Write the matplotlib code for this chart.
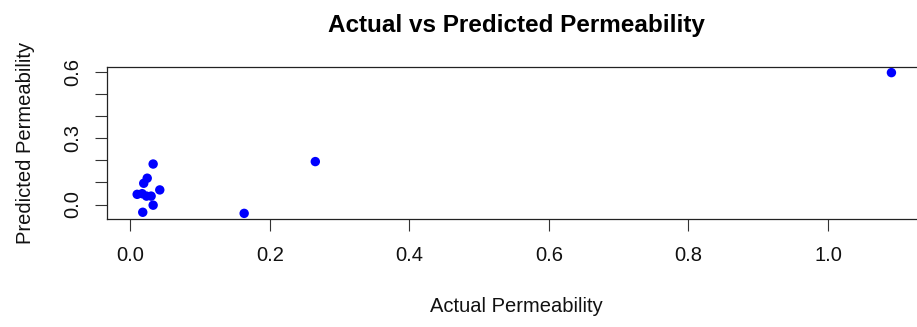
import matplotlib

matplotlib.use("Agg")
import matplotlib.pyplot as plt

plt.rcParams["font.family"] = ["Liberation Sans", "DejaVu Sans"]

# actual vs predicted permeability for the test samples
actual = [0.0096, 0.0167, 0.023, 0.0296, 0.042, 0.019, 0.024, 0.0325,
          0.0325, 0.0176, 0.163, 0.265, 1.091]
predicted = [0.046, 0.049, 0.038, 0.038, 0.066, 0.096, 0.119, 0.183,
             -0.003, -0.035, -0.040, 0.194, 0.596]

x_ticks = [0.0, 0.2, 0.4, 0.6, 0.8, 1.0]
y_ticks = [0.0, 0.1, 0.2, 0.3, 0.4, 0.5, 0.6]
y_labeled = [0.0, 0.3, 0.6]


def r_limits(values, frac=0.04):
    lo, hi = min(values), max(values)
    pad = (hi - lo) * frac
    return lo - pad, hi + pad


fig = plt.figure(figsize=(9.17, 3.27), dpi=100)
ax = fig.add_axes([107 / 917, 108 / 327, (925 - 107) / 917, 152 / 327])

ax.scatter(actual, predicted, s=46, color="#0000ff", edgecolors="none", zorder=3)

ax.set_xlim(*r_limits(actual))
ax.set_ylim(*r_limits(predicted))
# keep the same data scale while the frame runs off the right edge
x0, x1 = ax.get_xlim()
ax.set_xlim(x0, x0 + (x1 - x0) * (925 - 107) / (921.6 - 107))

ax.set_xticks(x_ticks)
ax.set_xticklabels([f"{v:.1f}" for v in x_ticks])
ax.set_yticks(y_ticks)
ax.set_yticklabels([f"{v:.1f}" if v in y_labeled else "" for v in y_ticks],
                   rotation=90, va="center")

ax.tick_params(axis="both", length=8.5, width=0.8, color="#333333",
               labelsize=14.5, labelcolor="#111111")
ax.tick_params(axis="x", pad=11)
ax.tick_params(axis="y", pad=9)

for sp in ax.spines.values():
    sp.set_linewidth(0.9)
    sp.set_color("#222222")

ax.set_xlabel("Actual Permeability", fontsize=14.5, color="#111111", labelpad=23)
ax.set_ylabel("Predicted Permeability", fontsize=14.5, color="#111111", labelpad=21)
ax.set_title("Actual vs Predicted Permeability", fontsize=17.5, fontweight="bold",
             pad=25)

fig.savefig("out.png", dpi=100)
